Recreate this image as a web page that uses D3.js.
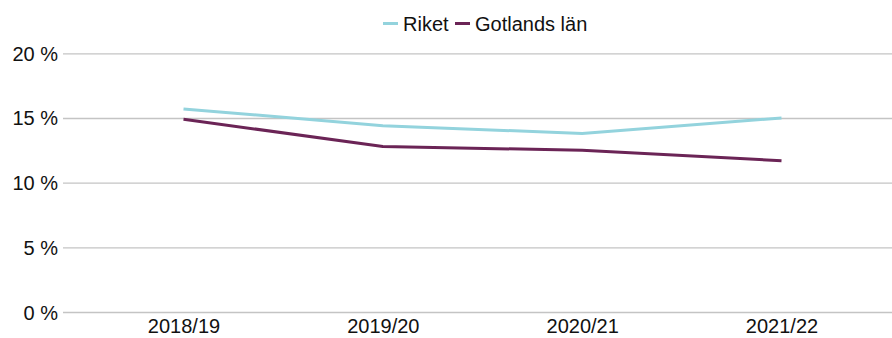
<!DOCTYPE html>
<html><head><meta charset="utf-8">
<script src="https://cdn.jsdelivr.net/npm/d3@7"></script>
<style>body{margin:0;background:#fff}svg{display:block;font-family:"Liberation Sans",Arial,sans-serif}</style>
</head><body>
<svg id="c" width="892" height="338"></svg>
<script>
const categories = ["2018/19","2019/20","2020/21","2021/22"];
const riket = [15.7, 14.4, 13.8, 15.0];
const gotland = [14.9, 12.8, 12.5, 11.7];
const yTicks = [0,5,10,15,20];
const seriesNames = ["Riket","Gotlands län"];
const colors = ["#93d3dd","#6b2456"];

const svg = d3.select("#c");
const x = d3.scalePoint().domain(categories).range([183.5, 781.5]);
const y = d3.scaleLinear().domain([0,20]).range([312,53.3]);
const gridX0 = 63, gridX1 = 892;

const yAxis = svg.append("g").attr("transform",`translate(${gridX0},0)`)
  .call(d3.axisLeft(y).tickValues(yTicks).tickSize(-(gridX1-gridX0)).tickPadding(5).tickFormat(d=>d+" %"));
yAxis.select(".domain").remove();
yAxis.selectAll(".tick line").attr("stroke","#c4c4c4").attr("stroke-width",1.3);
yAxis.selectAll(".tick text").attr("font-size","20px").attr("fill","#111").attr("dy","0.35em");

const xAxis = svg.append("g").attr("transform","translate(0,312)")
  .call(d3.axisBottom(x).tickSize(0).tickPadding(7));
xAxis.select(".domain").remove();
xAxis.selectAll(".tick text").attr("font-size","20px").attr("fill","#111");

const line = d3.line().x((d,i)=>x(categories[i])).y(d=>y(d));
[riket, gotland].forEach((s,i)=>{
  svg.append("path").datum(s).attr("d",line).attr("fill","none")
    .attr("stroke",colors[i]).attr("stroke-width",3);
});

// legend
const leg = svg.append("g").attr("font-size","20px").attr("fill","#111");
const legItems = [{x:383, tx:403},{x:455, tx:475}];
seriesNames.forEach((n,i)=>{
  const it = legItems[i];
  leg.append("line").attr("x1",it.x).attr("x2",it.x+15).attr("y1",23.5).attr("y2",23.5)
    .attr("stroke",colors[i]).attr("stroke-width",3);
  leg.append("text").attr("x",it.tx).attr("y",31).text(n);
});
</script>
</body></html>
